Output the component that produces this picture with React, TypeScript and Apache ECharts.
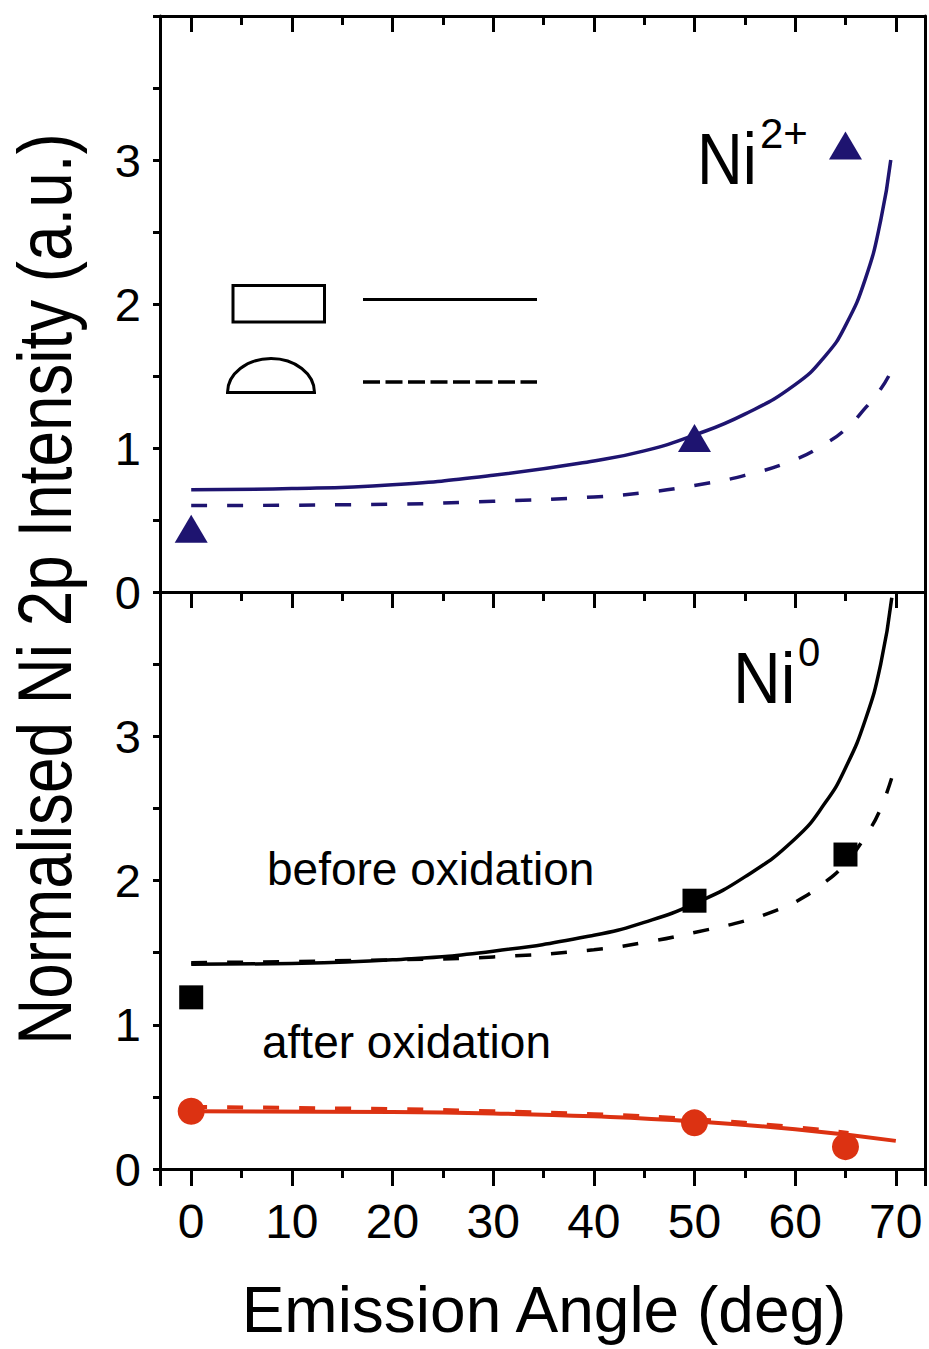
import React, { useEffect, useRef } from 'react';
import * as echarts from 'echarts';

// ---- data (emission angle in deg, normalised intensity) ----
const ni2FitSlab = [
  [0, 0.71], [10, 0.718], [20, 0.745], [30, 0.81], [40, 0.91], [45, 0.98], [50, 1.09],
  [55, 1.235], [60, 1.44], [63, 1.64], [65, 1.85], [67, 2.18], [68.5, 2.58], [69.5, 3.0],
];
const ni2FitDome = [
  [0, 0.60], [20, 0.61], [30, 0.63], [40, 0.66], [45, 0.69], [50, 0.74], [55, 0.81],
  [60, 0.92], [63, 1.03], [65, 1.13], [67, 1.28], [68.5, 1.41], [69.3, 1.50],
];
const ni2Points = [[0, 0.44], [50, 1.07], [65, 3.1]];

const ni0BeforeSlab = [
  [0, 1.42], [10, 1.425], [20, 1.45], [30, 1.51], [40, 1.62], [45, 1.71], [50, 1.84],
  [55, 2.025], [60, 2.29], [63, 2.54], [65, 2.78], [67, 3.12], [68.5, 3.5], [69.6, 3.96],
];
const ni0BeforeDome = [
  [0, 1.43], [20, 1.45], [30, 1.47], [40, 1.52], [45, 1.57], [50, 1.64], [55, 1.72],
  [58, 1.79], [60, 1.85], [63, 1.99], [65, 2.12], [67, 2.31], [68.5, 2.50], [69.8, 2.76],
];
const ni0BeforePoints = [[0, 1.19], [50, 1.86], [65, 2.18]];

const ni0AfterSlab = [[0, 0.40], [20, 0.395], [30, 0.385], [40, 0.365], [50, 0.33], [60, 0.275], [70, 0.195]];
const ni0AfterDome = [[0, 0.43], [20, 0.415], [30, 0.40], [40, 0.38], [50, 0.345], [60, 0.29], [65.3, 0.25]];
const ni0AfterPoints = [[0, 0.40], [50, 0.32], [65, 0.155]];

const yTickValues = [0, 1, 2, 3];

const FONT = '"Liberation Sans", Arial, Helvetica, sans-serif';
const NAVY = '#1e1470';
const RED = '#dc3212';
const BLACK = '#000';

echarts.graphic.registerShape(
  'dome',
  echarts.graphic.extendPath('M0 0 A43.5 34 0 0 1 87 0 Z', {})
);

function xLabel(v: number) {
  return Math.abs(v - Math.round(v / 10) * 10) < 1e-6 ? String(Math.round(v)) : '';
}
function yLabel(v: number) {
  return yTickValues.includes(Math.round(v * 1000) / 1000) ? String(v) : '';
}

const xCommon = {
  type: 'value',
  min: -3.1,
  max: 72.9,
  splitNumber: 8,
  splitLine: { show: false },
  axisLine: { show: true, onZero: false, lineStyle: { color: BLACK, width: 3 } },
};
const yCommon = {
  type: 'value',
  min: 0,
  max: 4,
  interval: 1,
  splitLine: { show: false },
  axisLine: { show: true, onZero: false, lineStyle: { color: BLACK, width: 3 } },
};

export default function App() {
  const ref = useRef<HTMLDivElement>(null);
  useEffect(() => {
    if (!ref.current) return;
    const chart = echarts.init(ref.current, undefined, { renderer: 'svg' });
    const lineBase = (data: number[][], color: string, dashed: boolean, xi: number, yi: number, w = 3.5) => ({
      type: 'line',
      xAxisIndex: xi,
      yAxisIndex: yi,
      data,
      smooth: 0.5,
      symbol: 'none',
      showSymbol: false,
      lineStyle: { color, width: w, type: dashed ? [16, 20] : 'solid', cap: 'butt' },
      z: 2,
    });
    const scatter = (data: number[][], symbol: string, size: any, color: string, xi: number, yi: number) => ({
      type: 'scatter',
      xAxisIndex: xi,
      yAxisIndex: yi,
      data,
      symbol,
      symbolSize: size,
      itemStyle: { color, opacity: 1 },
      z: 3,
    });
    chart.setOption({
      animation: false,
      backgroundColor: '#fff',
      grid: [
        { left: 160, top: 16, width: 765, height: 576 },
        { left: 160, top: 592, width: 765, height: 577 },
      ],
      xAxis: [
        { ...xCommon, gridIndex: 0, position: 'bottom', axisTick: { show: false }, axisLabel: { show: false } },
        {
          ...xCommon, gridIndex: 0, position: 'top',
          axisTick: { show: true, inside: true, length: 16, lineStyle: { color: BLACK, width: 3 } },
          minorTick: { show: true, splitNumber: 2, length: 9, lineStyle: { color: BLACK, width: 3 } },
          axisLabel: { show: false },
        },
        {
          ...xCommon, gridIndex: 1, position: 'bottom',
          axisTick: { show: true, inside: false, length: 17, lineStyle: { color: BLACK, width: 3 } },
          minorTick: { show: true, splitNumber: 2, length: 9, lineStyle: { color: BLACK, width: 3 } },
          axisLabel: { show: true, margin: 28, fontSize: 48, fontFamily: FONT, color: BLACK, formatter: xLabel },
        },
        {
          ...xCommon, gridIndex: 1, position: 'top',
          axisTick: { show: true, inside: true, length: 16, lineStyle: { color: BLACK, width: 3 } },
          minorTick: { show: true, splitNumber: 2, length: 9, lineStyle: { color: BLACK, width: 3 } },
          axisLabel: { show: false },
        },
      ],
      yAxis: [
        {
          ...yCommon, gridIndex: 0, position: 'left',
          axisTick: { show: true, inside: false, length: 7, lineStyle: { color: BLACK, width: 3 } },
          minorTick: { show: true, splitNumber: 2, length: 7, lineStyle: { color: BLACK, width: 3 } },
          axisLabel: { show: true, margin: 19, fontSize: 47, fontFamily: FONT, color: BLACK, formatter: yLabel },
        },
        { ...yCommon, gridIndex: 0, position: 'right', axisTick: { show: false }, axisLabel: { show: false } },
        {
          ...yCommon, gridIndex: 1, position: 'left',
          axisTick: { show: true, inside: false, length: 7, lineStyle: { color: BLACK, width: 3 } },
          minorTick: { show: true, splitNumber: 2, length: 7, lineStyle: { color: BLACK, width: 3 } },
          axisLabel: { show: true, margin: 19, fontSize: 47, fontFamily: FONT, color: BLACK, formatter: yLabel },
        },
        { ...yCommon, gridIndex: 1, position: 'right', axisTick: { show: false }, axisLabel: { show: false } },
      ],
      series: [
        lineBase(ni2FitSlab, NAVY, false, 0, 0),
        lineBase(ni2FitDome, NAVY, true, 0, 0),
        scatter(ni2Points, 'triangle', [33, 28], NAVY, 0, 0),
        lineBase(ni0BeforeSlab, BLACK, false, 2, 2),
        lineBase(ni0BeforeDome, BLACK, true, 2, 2),
        scatter(ni0BeforePoints, 'rect', 24, BLACK, 2, 2),
        lineBase(ni0AfterSlab, RED, false, 2, 2, 4),
        lineBase(ni0AfterDome, RED, true, 2, 2, 4),
        scatter(ni0AfterPoints, 'circle', 27, RED, 2, 2),
      ],
      graphic: [
        { type: 'text', x: 697, y: 159, scaleX: 0.88, style: { text: 'Ni', font: `72px ${FONT}`, fill: BLACK, align: 'left', verticalAlign: 'middle' } },
        { type: 'text', x: 760, y: 133, style: { text: '2+', font: `42px ${FONT}`, fill: BLACK, align: 'left', verticalAlign: 'middle' } },
        { type: 'text', x: 733, y: 678, scaleX: 0.92, style: { text: 'Ni', font: `72px ${FONT}`, fill: BLACK, align: 'left', verticalAlign: 'middle' } },
        { type: 'text', x: 798, y: 652, style: { text: '0', font: `40px ${FONT}`, fill: BLACK, align: 'left', verticalAlign: 'middle' } },
        { type: 'text', x: 267, y: 869, style: { text: 'before oxidation', font: `46px ${FONT}`, fill: BLACK, align: 'left', verticalAlign: 'middle' } },
        { type: 'text', x: 262, y: 1042, style: { text: 'after oxidation', font: `46px ${FONT}`, fill: BLACK, align: 'left', verticalAlign: 'middle' } },
        { type: 'text', x: 44, y: 589, rotation: Math.PI / 2, scaleX: 0.84, style: { text: 'Normalised Ni 2p Intensity (a.u.)', font: `76px ${FONT}`, fill: BLACK, align: 'center', verticalAlign: 'middle' } },
        { type: 'text', x: 544, y: 1310, style: { text: 'Emission Angle (deg)', font: `64px ${FONT}`, fill: BLACK, align: 'center', verticalAlign: 'middle' } },
        { type: 'rect', shape: { x: 233, y: 285.5, width: 91.5, height: 36.5 }, style: { fill: 'none', stroke: BLACK, lineWidth: 3 } },
        { type: 'line', shape: { x1: 363, y1: 299.5, x2: 537, y2: 299.5 }, style: { stroke: BLACK, lineWidth: 3 } },
        { type: 'dome', x: 227.5, y: 392.5, style: { fill: 'none', stroke: BLACK, lineWidth: 3 } },
        { type: 'line', shape: { x1: 363, y1: 382, x2: 537, y2: 382 }, style: { stroke: BLACK, lineWidth: 3.5, lineDash: [17, 5.5] } },
      ],
    });
    return () => chart.dispose();
  }, []);
  return <div ref={ref} style={{ width: 929, height: 1349, position: 'absolute', left: 0, top: 0, background: '#fff' }} />;
}
